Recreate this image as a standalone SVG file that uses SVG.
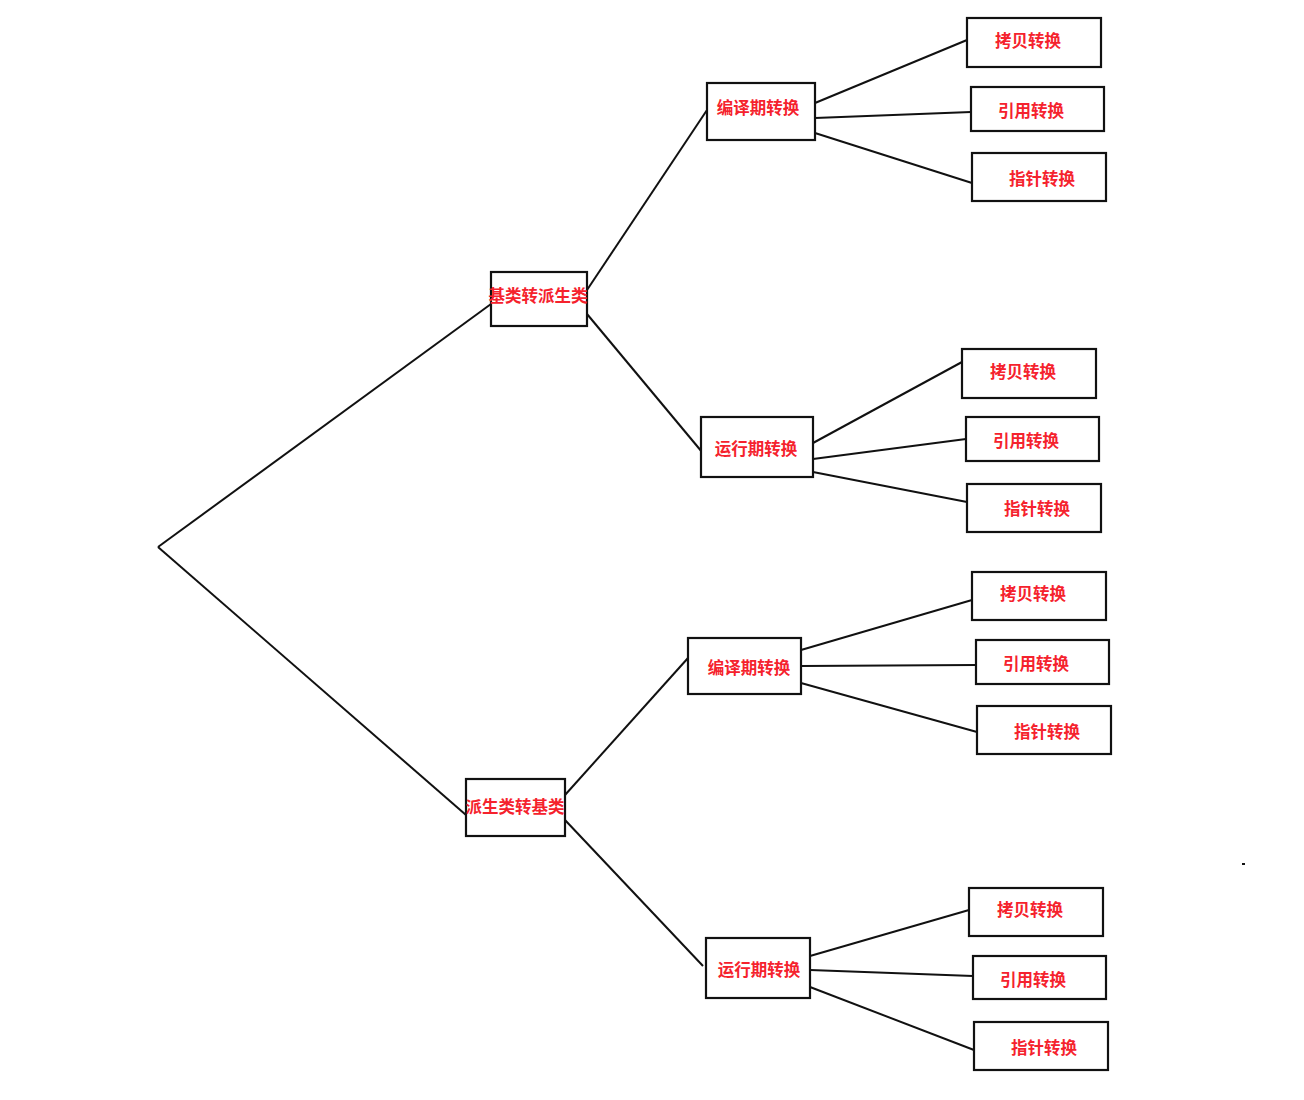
<svg xmlns="http://www.w3.org/2000/svg" width="1304" height="1100" viewBox="0 0 1304 1100">
<style>
.box{fill:#fff;stroke:#111;stroke-width:2.2}
.t{font-family:"Noto Sans CJK SC","Noto Sans",sans-serif;font-weight:bold;font-size:16.5px;fill:#f5222d;text-anchor:middle;dominant-baseline:central}
.c{stroke:#111;stroke-width:2;fill:none}
</style>
<rect width="1304" height="1100" fill="#fff"/>
<g id="connectors">
<line class="c" x1="158" y1="547" x2="491" y2="304"/>
<line class="c" x1="158" y1="547" x2="466" y2="815"/>
<line class="c" x1="587" y1="290" x2="707" y2="110"/>
<line class="c" x1="587" y1="314" x2="702" y2="452"/>
<line class="c" x1="565" y1="795" x2="688" y2="658"/>
<line class="c" x1="565" y1="820" x2="703" y2="966"/>
<line class="c" x1="815" y1="103" x2="967" y2="40"/>
<line class="c" x1="815" y1="118" x2="971" y2="112"/>
<line class="c" x1="815" y1="133" x2="972" y2="183"/>
<line class="c" x1="813" y1="443" x2="962" y2="362"/>
<line class="c" x1="813" y1="459" x2="966" y2="439"/>
<line class="c" x1="813" y1="472" x2="967" y2="502"/>
<line class="c" x1="801" y1="650" x2="972" y2="600"/>
<line class="c" x1="801" y1="666" x2="976" y2="665"/>
<line class="c" x1="801" y1="683" x2="977" y2="732"/>
<line class="c" x1="810" y1="956" x2="969" y2="910"/>
<line class="c" x1="810" y1="970" x2="973" y2="976"/>
<line class="c" x1="810" y1="987" x2="974" y2="1050"/>
</g>
<g id="n_base2derived"><rect class="box" x="491" y="272" width="96" height="54"/><text class="t" x="538" y="295">基类转派生类</text></g>
<g id="n_derived2base"><rect class="box" x="466" y="779" width="99" height="57"/><text class="t" x="515" y="806">派生类转基类</text></g>
<g id="n_compile1"><rect class="box" x="707" y="83" width="108" height="57"/><text class="t" x="758" y="107">编译期转换</text></g>
<g id="n_runtime1"><rect class="box" x="701" y="417" width="112" height="60"/><text class="t" x="756" y="448">运行期转换</text></g>
<g id="n_compile2"><rect class="box" x="688" y="638" width="113" height="56"/><text class="t" x="749" y="667">编译期转换</text></g>
<g id="n_runtime2"><rect class="box" x="706" y="938" width="104" height="60"/><text class="t" x="759" y="969">运行期转换</text></g>
<g id="n_copy1"><rect class="box" x="967" y="18" width="134" height="49"/><text class="t" x="1028" y="40">拷贝转换</text></g>
<g id="n_ref1"><rect class="box" x="971" y="87" width="133" height="44"/><text class="t" x="1031" y="110">引用转换</text></g>
<g id="n_ptr1"><rect class="box" x="972" y="153" width="134" height="48"/><text class="t" x="1042" y="178">指针转换</text></g>
<g id="n_copy2"><rect class="box" x="962" y="349" width="134" height="49"/><text class="t" x="1023" y="371">拷贝转换</text></g>
<g id="n_ref2"><rect class="box" x="966" y="417" width="133" height="44"/><text class="t" x="1026" y="440">引用转换</text></g>
<g id="n_ptr2"><rect class="box" x="967" y="484" width="134" height="48"/><text class="t" x="1037" y="508">指针转换</text></g>
<g id="n_copy3"><rect class="box" x="972" y="572" width="134" height="48"/><text class="t" x="1033" y="593">拷贝转换</text></g>
<g id="n_ref3"><rect class="box" x="976" y="640" width="133" height="44"/><text class="t" x="1036" y="663">引用转换</text></g>
<g id="n_ptr3"><rect class="box" x="977" y="706" width="134" height="48"/><text class="t" x="1047" y="731">指针转换</text></g>
<g id="n_copy4"><rect class="box" x="969" y="888" width="134" height="48"/><text class="t" x="1030" y="909">拷贝转换</text></g>
<g id="n_ref4"><rect class="box" x="973" y="956" width="133" height="43"/><text class="t" x="1033" y="979">引用转换</text></g>
<g id="n_ptr4"><rect class="box" x="974" y="1022" width="134" height="48"/><text class="t" x="1044" y="1047">指针转换</text></g>
<rect x="1242" y="863" width="3" height="2" fill="#111"/>
</svg>
